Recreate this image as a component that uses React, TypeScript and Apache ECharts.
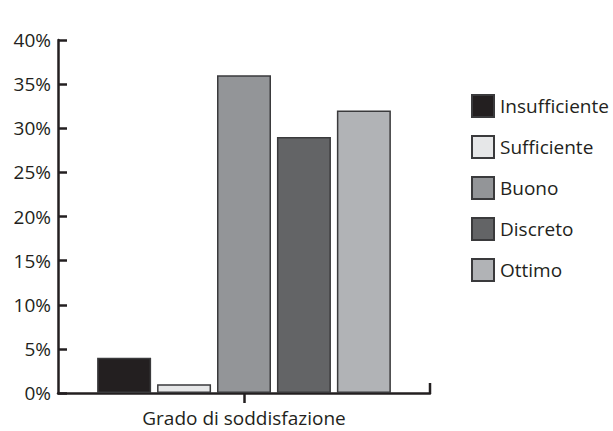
import React, { useEffect, useRef } from "react";
import * as echarts from "echarts";

const categories = ["Grado di soddisfazione"];
const seriesNames = ["Insufficiente", "Sufficiente", "Buono", "Discreto", "Ottimo"];
const seriesValues = [[4], [1], [36], [29], [32]];
const seriesColors = ["#231f20", "#e6e7e8", "#939598", "#636466", "#b1b3b6"];
const yTicks = [0, 5, 10, 15, 20, 25, 30, 35, 40];

export default function App() {
  const ref = useRef<HTMLDivElement>(null);
  useEffect(() => {
    if (!ref.current) return;
    const chart = echarts.init(ref.current, undefined, { renderer: "svg" });
    const font = "'Open Sans', 'Noto Sans', sans-serif";
    const axisColor = "#231f20";
    chart.setOption({
      animation: false,
      backgroundColor: "#ffffff",
      grid: { left: 58, right: 183, top: 40, bottom: 38, containLabel: false },
      legend: {
        orient: "vertical",
        left: 471,
        top: 94,
        padding: 0,
        itemWidth: 22,
        itemHeight: 22,
        itemGap: 17,
        icon: "rect",
        textStyle: { fontFamily: font, fontSize: 19, color: "#231f20", padding: [0, 0, 0, 1] },
        data: seriesNames,
      },
      xAxis: {
        type: "category",
        data: categories,
        axisLine: { lineStyle: { color: axisColor, width: 2.5 } },
        axisTick: { show: true, alignWithLabel: true, length: 10, lineStyle: { color: axisColor, width: 2.5 } },
        axisLabel: { margin: 15, lineHeight: 19, fontFamily: font, fontSize: 19, color: "#231f20" },
      },
      yAxis: {
        type: "value",
        min: yTicks[0],
        max: yTicks[yTicks.length - 1],
        interval: 5,
        axisLine: { show: true, lineStyle: { color: axisColor, width: 2.5 } },
        axisTick: { show: true, inside: true, length: 9, lineStyle: { color: axisColor, width: 2.5 } },
        splitLine: { show: false },
        axisLabel: { margin: 7, fontFamily: font, fontSize: 19, color: "#231f20", formatter: "{value}%" },
      },
      series: seriesNames.map((name, i) => ({
        name,
        type: "bar",
        data: seriesValues[i],
        barWidth: 54,
        barGap: "11%",
        itemStyle: { color: seriesColors[i], borderColor: "#3a3a3c", borderWidth: 1.5 },
      })),
    });
    const endPt = chart.convertToPixel({ gridIndex: 0 }, [0, 0]);
    const rightX = 613 - 183;
    const y0 = endPt ? endPt[1] : 393;
    chart.setOption({
      graphic: [
        {
          type: "line",
          shape: { x1: rightX, y1: y0, x2: rightX, y2: y0 - 10 },
          style: { stroke: axisColor, lineWidth: 2.5 },
        },
      ],
    });
    return () => chart.dispose();
  }, []);
  return <div ref={ref} style={{ width: 613, height: 431, position: "absolute", left: 0, top: 0 }} />;
}
